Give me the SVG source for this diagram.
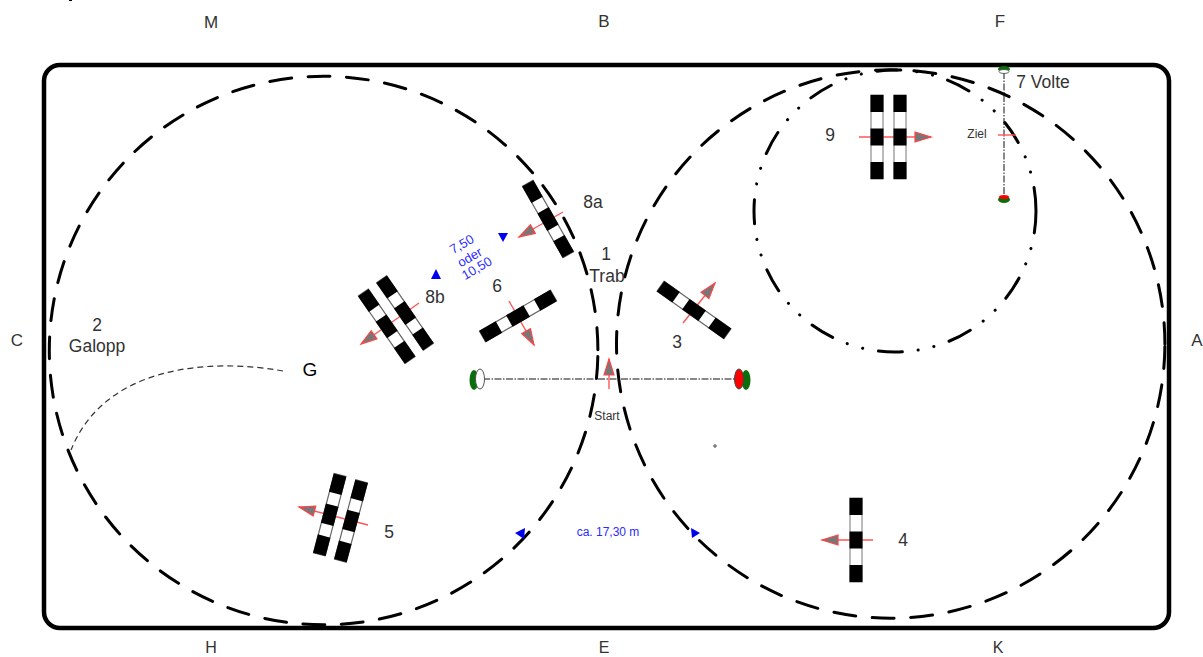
<svg xmlns="http://www.w3.org/2000/svg" width="1203" height="657" viewBox="0 0 1203 657">
<style>
text{font-family:"Liberation Sans",Arial,sans-serif;fill:#333;text-anchor:middle}
.l{font-size:17px}.s{font-size:16px}.n{font-size:17.5px}.b{fill:#2b2bff}
.bc{fill:none;stroke:#000;stroke-width:3;stroke-linecap:round}
.arr{fill:none;stroke:#f55;stroke-width:1.4;marker-end:url(#ah)}
.bl{fill:#0000f0}
</style>
<defs>
<marker id="ah" markerUnits="userSpaceOnUse" markerWidth="20" markerHeight="14" refX="17" refY="6" orient="auto">
<path d="M1,1 L17,6 L1,11 Z" fill="#777" stroke="#f44" stroke-width="1.2"/>
</marker>
<g id="gate">
<rect x="-6" y="-42" width="12" height="84" fill="#fff" stroke="#777" stroke-width="1"/>
<rect x="-6.5" y="-42" width="13" height="17" fill="#000"/>
<rect x="-6.5" y="-8.5" width="13" height="17" fill="#000"/>
<rect x="-6.5" y="25" width="13" height="17" fill="#000"/>
</g>
<g id="gate-r">
<rect x="-6" y="-41" width="12" height="82" fill="#fff" stroke="#666" stroke-width="1.2"/>
<rect x="-6.5" y="-41" width="13" height="19" fill="#000"/>
<rect x="-6.5" y="-10" width="13" height="20" fill="#000"/>
<rect x="-6.5" y="22" width="13" height="19" fill="#000"/>
</g>
</defs>
<rect width="1203" height="657" fill="#fff"/>
<rect x="69" y="0" width="3" height="1" fill="#000"/>
<rect id="arena" x="44" y="65" width="1125" height="563" rx="16" fill="none" stroke="#000" stroke-width="4.5"/>
<g id="connectors">
<circle class="bc" cx="323.6" cy="350.5" r="274.3" stroke-dasharray="22 16.5" stroke-dashoffset="-6"/>
<circle class="bc" cx="890.7" cy="344" r="274.2" stroke-dasharray="22 16.6" stroke-dashoffset="-2.5"/>
<circle class="bc" cx="895" cy="211" r="141" stroke-dasharray="24 16 0.1 16 0.1 15.8" stroke-dashoffset="-70"/>
<path d="M283,371 C210,358 105,365 71,450" fill="none" stroke="#333" stroke-width="1.2" stroke-dasharray="6 4"/>
<line x1="483" y1="379" x2="736" y2="379" stroke="#111" stroke-width="1" stroke-dasharray="7 1.5 1.5 1.5"/>
<line x1="1004" y1="72" x2="1004" y2="197" stroke="#111" stroke-width="1" stroke-dasharray="7 1.5 1.5 1.5"/>
<line class="arr" x1="563" y1="212" x2="519" y2="237"/>
<line class="arr" x1="419" y1="303" x2="361" y2="344"/>
<line class="arr" x1="509" y1="301" x2="534" y2="345"/>
<line class="arr" x1="683" y1="323" x2="715" y2="283"/>
<line class="arr" x1="368" y1="525" x2="299" y2="507"/>
<line class="arr" x1="873" y1="540" x2="822" y2="540"/>
<line class="arr" x1="859" y1="137" x2="931" y2="137"/>
<line class="arr" x1="609" y1="389" x2="609" y2="359"/>
<line x1="998" y1="135" x2="1016" y2="135" stroke="#f55" stroke-width="1.4"/>
</g>
<g id="gates">
<use id="gate-8a" href="#gate-r" transform="translate(548,219) rotate(-29.6)"/>
<use id="gate-8b1" href="#gate-r" transform="translate(386.7,326.3) rotate(-34.7)"/>
<use id="gate-8b2" href="#gate-r" transform="translate(405,313) rotate(-34.7)"/>
<use id="gate-6" href="#gate-r" transform="translate(518,316) rotate(60)"/>
<use id="gate-3" href="#gate-r" transform="translate(694,310) rotate(-54.6)"/>
<use id="gate-5a" href="#gate-r" transform="translate(329.7,514.7) rotate(14.6)"/>
<use id="gate-5b" href="#gate-r" transform="translate(351,521) rotate(15)"/>
<use id="gate-4" href="#gate" transform="translate(856,540)"/>
<use id="gate-9a" href="#gate" transform="translate(877,137)"/>
<use id="gate-9b" href="#gate" transform="translate(900,137)"/>
</g>
<g id="start-posts">
<ellipse cx="474" cy="380" rx="4.5" ry="10" fill="#0a6e0a"/>
<ellipse cx="480" cy="379" rx="4.5" ry="10" fill="#fff" stroke="#555"/>
<ellipse cx="746" cy="380" rx="4.5" ry="10" fill="#0a6e0a"/>
<ellipse cx="739" cy="379" rx="4.5" ry="10" fill="#f00" stroke="#444"/>
</g>
<g id="finish-posts">
<ellipse cx="1004" cy="69" rx="6" ry="3" fill="#0a6e0a"/>
<ellipse cx="1004" cy="71.5" rx="5" ry="2" fill="#fff" stroke="#444" stroke-width=".8"/>
<ellipse cx="1004" cy="199.5" rx="6" ry="3.5" fill="#0a6e0a"/>
<ellipse cx="1004" cy="197" rx="5" ry="2" fill="#f00"/>
</g>
<circle cx="715" cy="446" r="1.3" fill="#bbb" stroke="#444" stroke-width=".8"/>
<g id="blue">
<path class="bl" d="M498,233 L508,233 L503,242 Z"/>
<path class="bl" d="M431,279 L441,279 L436,269 Z"/>
<path class="bl" d="M515,533 L525,528 L524,539 Z"/>
<path class="bl" d="M700,533 L691,528 L692,538 Z"/>
<text class="b" font-size="13" transform="translate(464,248) rotate(-30)">7,50</text>
<text class="b" font-size="13" transform="translate(472,261) rotate(-30)">oder</text>
<text class="b" font-size="13" transform="translate(479,272) rotate(-30)">10,50</text>
<text class="b" x="608" y="536" font-size="12">ca. 17,30 m</text>
</g>
<g id="labels">
<text class="l" x="211" y="28">M</text>
<text class="l" x="604" y="27">B</text>
<text class="l" x="1000" y="27">F</text>
<text class="l" x="17" y="346">C</text>
<text class="l" x="1197" y="346">A</text>
<text class="s" x="211" y="653">H</text>
<text class="s" x="604" y="653">E</text>
<text class="s" x="998" y="653">K</text>
<text class="n" x="97" y="331">2</text>
<text class="n" x="97" y="352">Galopp</text>
<text x="310" y="376" style="font-size:19px;fill:#000">G</text>
<text class="n" x="606" y="260">1</text>
<text class="n" x="607" y="282">Trab</text>
<text class="n" x="593" y="208">8a</text>
<text class="n" x="435" y="303">8b</text>
<text class="n" x="497" y="292">6</text>
<text class="n" x="677" y="348">3</text>
<text class="n" x="389" y="538">5</text>
<text class="n" x="903" y="546">4</text>
<text class="n" x="830" y="141">9</text>
<text class="n" x="1043" y="88">7 Volte</text>
<text x="977" y="138" font-size="12">Ziel</text>
<text x="607" y="420" font-size="12">Start</text>
</g>
</svg>
